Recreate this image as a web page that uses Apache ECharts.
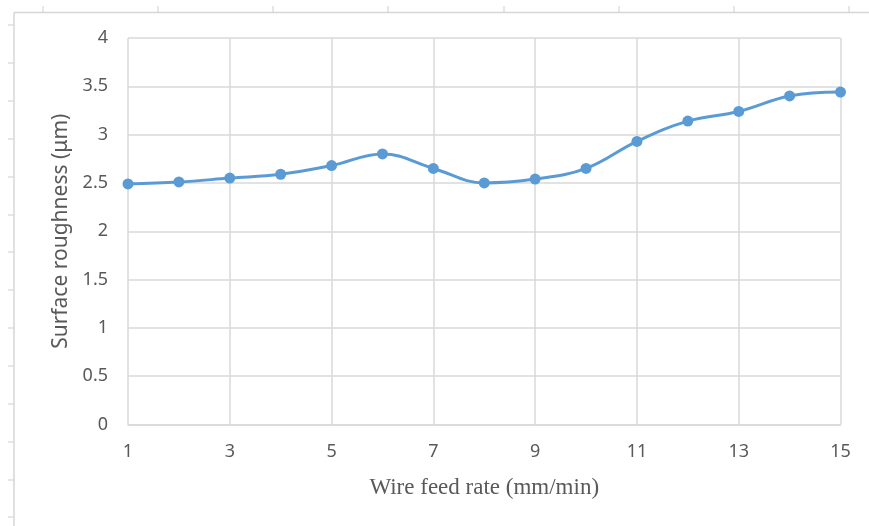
<!DOCTYPE html>
<html>
<head>
<meta charset="utf-8">
<script src="https://cdn.jsdelivr.net/npm/echarts@6/dist/echarts.min.js"></script>
<style>html,body{margin:0;padding:0;background:#fff;}#c{width:869px;height:526px;}</style>
</head>
<body>
<div id="c"></div>
<script>
const categories = ['1','2','3','4','5','6','7','8','9','10','11','12','13','14','15'];
const roughness = [2.49, 2.51, 2.55, 2.59, 2.68, 2.80, 2.65, 2.50, 2.54, 2.65, 2.93, 3.14, 3.24, 3.40, 3.44];
const yTicks = {min: 0, max: 4, interval: 0.5};
const xTitle = 'Wire feed rate (mm/min)';
const yTitle = 'Surface roughness (μm)';

const frameColor = '#d6d6d6';
const graphics = [];
graphics.push({type:'line', shape:{x1:14, y1:12.5, x2:869, y2:12.5}, style:{stroke:frameColor, lineWidth:1.5}, silent:true});
graphics.push({type:'line', shape:{x1:14, y1:12.5, x2:14, y2:526}, style:{stroke:frameColor, lineWidth:1.5}, silent:true});
[43,158,273,388,504,619,734,849].forEach(x=>{
  graphics.push({type:'line', shape:{x1:x, y1:6, x2:x, y2:12.5}, style:{stroke:frameColor, lineWidth:1.2}, silent:true});
});
[25,63,101,139,177,215,252,290,328,366,404,442,480,517].forEach(y=>{
  graphics.push({type:'line', shape:{x1:8, y1:y, x2:14, y2:y}, style:{stroke:frameColor, lineWidth:1.2}, silent:true});
});

const chart = echarts.init(document.getElementById('c'), null, {renderer:'canvas'});
chart.setOption({
  animation: false,
  backgroundColor: '#ffffff',
  graphic: graphics,
  grid: {left:128, right:28.5, top:38, bottom:101.5, containLabel:false},
  xAxis: {
    type: 'category',
    data: categories,
    boundaryGap: false,
    name: xTitle,
    nameLocation: 'middle',
    nameGap: 52,
    nameTextStyle: {fontFamily:'Liberation Serif', fontSize:23, color:'#595959'},
    axisLine: {show:true, lineStyle:{color:'#d9d9d9', width:1.5}},
    axisTick: {show:false},
    axisLabel: {interval:1, margin:18, fontFamily:'Noto Sans', fontSize:18, color:'#595959'},
    splitLine: {show:true, interval:1, lineStyle:{color:'#d9d9d9', width:1.5}}
  },
  yAxis: {
    type: 'value',
    min: yTicks.min, max: yTicks.max, interval: yTicks.interval,
    name: yTitle,
    nameLocation: 'middle',
    nameGap: 55,
    nameTextStyle: {fontFamily:'Noto Sans', fontSize:21, color:'#595959'},
    axisLine: {show:false},
    axisTick: {show:false},
    axisLabel: {margin:20, fontFamily:'Noto Sans', fontSize:18, color:'#595959'},
    splitLine: {show:true, lineStyle:{color:'#d9d9d9', width:1.5}}
  },
  series: [{
    type: 'line',
    data: roughness,
    smooth: 0.4,
    symbol: 'circle',
    symbolSize: 11,
    lineStyle: {color:'#5b9bd5', width:3},
    itemStyle: {color:'#5b9bd5'}
  }]
});
</script>
</body>
</html>
